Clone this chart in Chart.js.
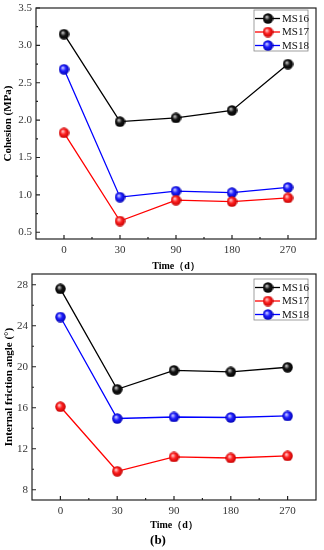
<!DOCTYPE html>
<html>
<head>
<meta charset="utf-8">
<script src="https://cdn.jsdelivr.net/npm/chart.js@4"></script>
<style>
  body { margin: 0; background: #fff; }
  canvas { display: block; }
</style>
</head>
<body>
<canvas id="cohesion" width="324" height="272"></canvas>
<canvas id="friction" width="324" height="278"></canvas>
<script>
const times = ['0', '30', '90', '180', '270'];
const seriesNames = ['MS16', 'MS17', 'MS18'];

const cohesionMS16 = [3.15, 1.98, 2.03, 2.13, 2.75];
const cohesionMS17 = [1.83, 0.65, 0.93, 0.91, 0.96];
const cohesionMS18 = [2.68, 0.97, 1.05, 1.03, 1.10];

const frictionMS16 = [27.6, 17.8, 19.65, 19.5, 19.95];
const frictionMS17 = [16.1, 9.8, 11.2, 11.1, 11.3];
const frictionMS18 = [24.85, 14.95, 15.1, 15.05, 15.2];

const cohesionTicks = [0.5, 1.0, 1.5, 2.0, 2.5, 3.0, 3.5];
const cohesionMinor = [0.75, 1.25, 1.75, 2.25, 2.75, 3.25];
const frictionTicks = [8, 12, 16, 20, 24, 28];
const frictionMinor = [10, 14, 18, 22, 26];

const serif = "'Liberation Serif', 'Times New Roman', serif";
const colors = ['#000000', '#ff0000', '#0000ff'];

// glossy ball markers
function ball(hi, mid, dark, d) {
  const c = document.createElement('canvas');
  c.width = c.height = d;
  const g = c.getContext('2d');
  const r = d / 2;
  const grd = g.createRadialGradient(r * 0.75, r * 0.7, 0.3, r, r, r);
  grd.addColorStop(0, hi);
  grd.addColorStop(0.45, mid);
  grd.addColorStop(1, dark);
  g.fillStyle = grd;
  g.beginPath();
  g.arc(r, r, r - 0.3, 0, Math.PI * 2);
  g.fill();
  return c;
}
const balls = [
  ball('#c8c8c8', '#151515', '#000000', 11),
  ball('#ffd0d0', '#ff2020', '#c00000', 11),
  ball('#d0d0ff', '#2020ff', '#0000b0', 11)
];

// frame, inward ticks and the line+ball legend
const decor = {
  id: 'decor',
  afterDatasetsDraw(chart, args, o) {
    const ctx = chart.ctx;
    const a = chart.chartArea;
    const xs = chart.scales.x, ys = chart.scales.y;
    ctx.save();
    ctx.strokeStyle = '#222';
    ctx.lineWidth = 1.2;
    ctx.strokeRect(a.left, a.top, a.right - a.left, a.bottom - a.top);
    ctx.beginPath();
    times.forEach((t, i) => {
      const px = xs.getPixelForValue(i);
      ctx.moveTo(px, a.bottom); ctx.lineTo(px, a.bottom - 4);
      if (i < times.length - 1) {
        const mx = (px + xs.getPixelForValue(i + 1)) / 2;
        ctx.moveTo(mx, a.bottom); ctx.lineTo(mx, a.bottom - 2);
      }
    });
    o.major.forEach(v => {
      const py = ys.getPixelForValue(v);
      ctx.moveTo(a.left, py); ctx.lineTo(a.left + 4, py);
    });
    o.minor.forEach(v => {
      const py = ys.getPixelForValue(v);
      ctx.moveTo(a.left, py); ctx.lineTo(a.left + 2, py);
    });
    ctx.stroke();

    // legend
    const bw = 54, bh = 41;
    const bx = a.right - o.legendRight - bw;
    const by = a.top + o.legendTop;
    ctx.fillStyle = '#fff';
    ctx.fillRect(bx, by, bw, bh);
    ctx.strokeStyle = '#888';
    ctx.lineWidth = 0.8;
    ctx.strokeRect(bx, by, bw, bh);
    ctx.font = '11px ' + serif;
    ctx.textBaseline = 'middle';
    chart.data.datasets.forEach((ds, i) => {
      const ry = by + 8.5 + i * 13.5;
      ctx.strokeStyle = colors[i];
      ctx.lineWidth = 1.3;
      ctx.beginPath();
      ctx.moveTo(bx + 1, ry); ctx.lineTo(bx + 26, ry);
      ctx.stroke();
      ctx.drawImage(balls[i], bx + 14 - 5.5, ry - 5.5);
      ctx.fillStyle = '#111';
      ctx.fillText(ds.label, bx + 28, ry + 0.5);
    });
    ctx.restore();
  }
};

function makeChart(id, cfg) {
  return new Chart(document.getElementById(id), {
    type: 'line',
    data: {
      labels: times,
      datasets: cfg.series.map((s, i) => ({
        label: seriesNames[i],
        data: s,
        borderColor: colors[i],
        borderWidth: 1.3,
        pointStyle: balls[i],
        pointRadius: 5.5,
        pointHoverRadius: 5.5,
        tension: 0
      }))
    },
    options: {
      responsive: false,
      animation: false,
      events: [],
      layout: { autoPadding: false, padding: { top: cfg.padTop, right: 8, left: 0, bottom: 0 } },
      plugins: {
        legend: { display: false },
        tooltip: { enabled: false },
        title: cfg.caption ? {
          display: true, text: cfg.caption, position: 'bottom',
          color: '#000', font: { family: serif, size: 13, weight: 'bold', lineHeight: 1.2 },
          padding: { top: 0, bottom: 2 }
        } : { display: false },
        decor: { major: cfg.major, minor: cfg.minor, legendTop: cfg.legendTop, legendRight: 8 }
      },
      scales: {
        x: {
          offset: true,
          grid: { display: false, drawTicks: false },
          border: { display: false },
          ticks: { color: '#333', padding: 5, font: { family: serif, size: 11 } },
          title: {
            display: true, text: 'Time（d）', color: '#000',
            font: { family: serif, size: 10, weight: 'bold', lineHeight: 1.2 },
            padding: { top: 0, bottom: cfg.xTitlePad }
          },
          afterFit(s) { s.height = cfg.xHeight; s.paddingLeft = 0; s.paddingRight = 0; }
        },
        y: {
          min: cfg.min, max: cfg.max,
          grid: { display: false, drawTicks: false },
          border: { display: false },
          afterBuildTicks(s) { s.ticks = cfg.major.map(v => ({ value: v })); },
          ticks: {
            color: '#333', padding: 4, font: { family: serif, size: 11 },
            callback: cfg.fmt
          },
          title: {
            display: true, text: cfg.yTitle, color: '#000',
            font: { family: serif, size: 11, weight: 'bold', lineHeight: 1.2 },
            padding: { top: cfg.yTitlePad, bottom: 0 }
          },
          afterFit(s) { s.width = cfg.yWidth; s.paddingTop = 0; s.paddingBottom = 0; }
        }
      }
    },
    plugins: [decor]
  });
}

makeChart('cohesion', {
  series: [cohesionMS16, cohesionMS17, cohesionMS18],
  min: 0.41, max: 3.5,
  major: cohesionTicks, minor: cohesionMinor,
  fmt: v => v.toFixed(1),
  yTitle: 'Cohesion (MPa)',
  padTop: 8, yWidth: 36, xHeight: 33, xTitlePad: 0, yTitlePad: 1.4,
  legendTop: 2
});

makeChart('friction', {
  series: [frictionMS16, frictionMS17, frictionMS18],
  min: 7, max: 29.05,
  major: frictionTicks, minor: frictionMinor,
  fmt: v => String(v),
  yTitle: 'Internal friction angle (°)',
  padTop: 2, yWidth: 32, xHeight: 32.4, xTitlePad: 1.4, yTitlePad: 2.4,
  legendTop: 5,
  caption: '(b)'
});
</script>
</body>
</html>
